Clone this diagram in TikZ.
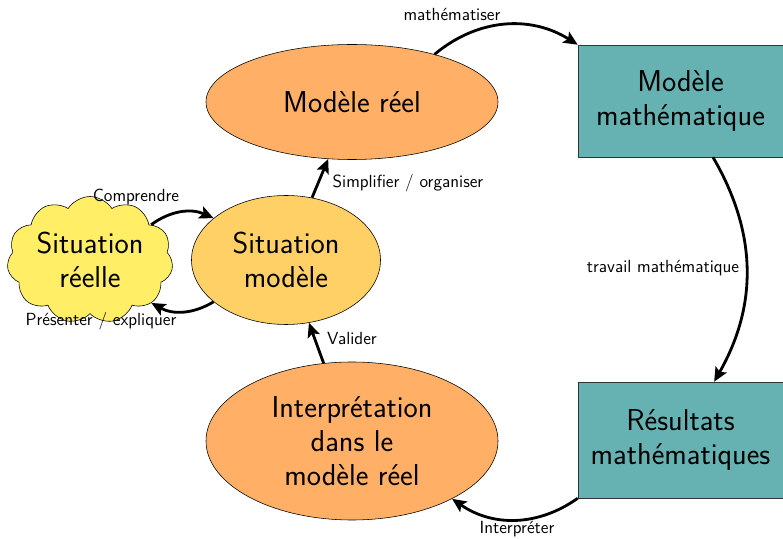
\documentclass[tikz,border=0pt]{standalone}
\usepackage{tikz}
\usetikzlibrary{arrows.meta,shapes.symbols,shapes.geometric}

\definecolor{jaune}{HTML}{FFEE66}
\definecolor{orclair}{HTML}{FFD066}
\definecolor{orfonce}{HTML}{FFB066}
\definecolor{sarcelle}{HTML}{66B2B2}

\tikzset{
  grand/.style={font=\sffamily\fontsize{21.5}{24}\selectfont, align=center},
  etiq/.style={font=\sffamily\fontsize{12.5}{15}\selectfont},
  fleche/.style={-{Stealth[length=10pt, width=9pt, inset=2pt]}, line width=2pt},
  boite/.style={draw=black!80, fill=sarcelle, minimum width=5.125cm, grand}
}

\begin{document}
\begin{tikzpicture}
\useasboundingbox (0,0) rectangle (19.575,13.45);

\node[draw, cloud, cloud puffs=11, cloud puff arc=115, aspect=1.4, fill=jaune, inner sep=0pt, minimum width=4.15cm, minimum height=3cm, grand] (reelle) at (2.25, 6.95) {Situation\\r\'eelle};
\node[draw, ellipse, fill=orclair, minimum width=4.725cm, minimum height=3.225cm, inner sep=0pt, grand] (sitmod) at (7.15, 6.95) {Situation\\mod\`ele};
\node[draw, ellipse, fill=orfonce, minimum width=7.3cm, minimum height=2.875cm, inner sep=0pt, grand] (reel) at (8.8, 10.9) {Mod\`ele r\'eel};
\node[draw, ellipse, fill=orfonce, minimum width=7.3cm, minimum height=3.95cm, inner sep=0pt, grand] (interp) at (8.8, 2.425) {Interpr\'etation\\dans le\\mod\`ele r\'eel};
\node[boite, minimum height=2.8cm] (math) at (17.0125, 10.925) {Mod\`ele\\math\'ematique};
\node[boite, minimum height=2.9cm] (res) at (17.0125, 2.45) {R\'esultats\\math\'ematiques};

\node[etiq] (lmath) at (11.3, 13.1) {math\'ematiser};
\node[etiq] (lcomp) at (3.4, 8.525) {Comprendre};
\node[etiq] (lpres) at (2.525, 5.425) {Pr\'esenter / expliquer};
\node[etiq] (lsimp) at (10.2, 8.875) {Simplifier / organiser};
\node[etiq] (lval) at (8.8, 5.0) {Valider};
\node[etiq] (ltrav) at (16.575, 6.75) {travail math\'ematique};
\node[etiq] (linterp) at (12.925, 0.22) {Interpr\'eter};

\draw (reel.30) edge[bend left=36, fleche] (math.north west);
\draw (math.-60) edge[bend left=30, fleche] (res.60);
\draw (res.south west) edge[bend left=35, fleche] (interp.-30);
\draw (interp) edge[fleche] (sitmod);
\draw (sitmod) edge[fleche] (reel);
\draw (reelle.30) edge[bend left=30, fleche] (sitmod.150);
\draw (sitmod.210) edge[bend left=30, fleche] (reelle.-35);
\end{tikzpicture}
\end{document}
